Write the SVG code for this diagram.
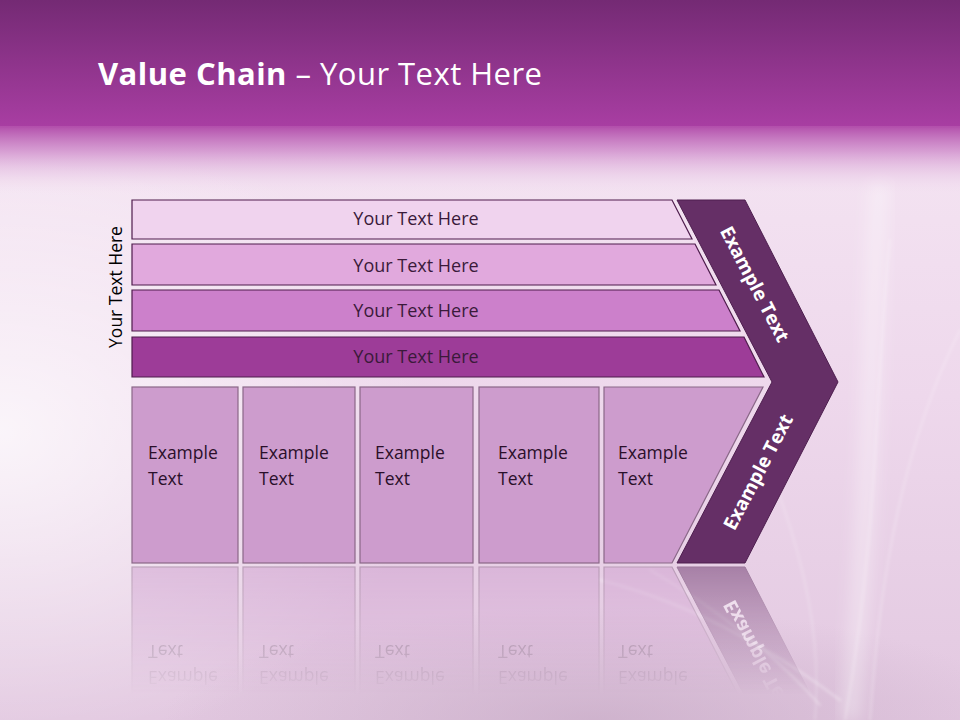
<svg xmlns="http://www.w3.org/2000/svg" xmlns:xlink="http://www.w3.org/1999/xlink" width="960" height="720" viewBox="0 0 960 720">
<defs>
<linearGradient id="bgBase" x1="0" y1="0" x2="0" y2="1">
<stop offset="0" stop-color="#f7eaf5"/>
<stop offset="0.55" stop-color="#eed8ec"/>
<stop offset="1" stop-color="#e2c8e0"/>
</linearGradient>
<radialGradient id="leftGlow" cx="0" cy="0.6" r="0.45">
<stop offset="0" stop-color="#ffffff" stop-opacity="0.75"/>
<stop offset="1" stop-color="#ffffff" stop-opacity="0"/>
</radialGradient>
<radialGradient id="bottomShade" cx="0.62" cy="1" r="0.45" gradientTransform="translate(0.62,1) scale(1,0.35) translate(-0.62,-1)">
<stop offset="0" stop-color="#bfa2be" stop-opacity="0.55"/>
<stop offset="1" stop-color="#bfa2be" stop-opacity="0"/>
</radialGradient>
<linearGradient id="topBand" x1="0" y1="0" x2="0" y2="1">
<stop offset="0" stop-color="#742a74"/>
<stop offset="1" stop-color="#a93ea3"/>
</linearGradient>
<linearGradient id="topFade" x1="0" y1="0" x2="0" y2="1">
<stop offset="0" stop-color="#b24fab" stop-opacity="1"/>
<stop offset="0.35" stop-color="#cf8ccb" stop-opacity="0.8"/>
<stop offset="1" stop-color="#f7eaf5" stop-opacity="0"/>
</linearGradient>
<linearGradient id="fadeGrad" x1="0" y1="0" x2="0" y2="1">
<stop offset="0" stop-color="#ffffff" stop-opacity="0.5"/>
<stop offset="1" stop-color="#ffffff" stop-opacity="0"/>
</linearGradient>
<linearGradient id="sheen" x1="0" y1="0" x2="1" y2="0">
<stop offset="0" stop-color="#ffffff" stop-opacity="0"/>
<stop offset="0.5" stop-color="#ffffff" stop-opacity="0.35"/>
<stop offset="1" stop-color="#ffffff" stop-opacity="0"/>
</linearGradient>
<mask id="fade" maskUnits="userSpaceOnUse" x="0" y="565" width="960" height="155">
<rect x="0" y="565" width="960" height="130" fill="url(#fadeGrad)"/>
</mask>
<filter id="soft" x="-20%" y="-20%" width="140%" height="140%">
<feGaussianBlur stdDeviation="1.5"/>
</filter>
<filter id="wide" x="-50%" y="-20%" width="200%" height="140%">
<feGaussianBlur stdDeviation="8"/>
</filter>
</defs>
<style>
.bar{stroke:#4e1c4c;stroke-width:1.2}
.box{fill:#cd9ccd;stroke:#8a6888;stroke-width:1.2}
.bt{font-family:"Open Sans","Noto Sans",sans-serif;font-size:18px;fill:#3a1a3a;text-anchor:middle}
.et{font-family:"Open Sans","Noto Sans",sans-serif;font-size:17.5px;fill:#2a0f2a}
.ct{font-family:"Open Sans","Noto Sans",sans-serif;font-size:19px;font-weight:bold;fill:#ffffff;text-anchor:middle}
.swoosh{fill:none;stroke:#ffffff;stroke-linecap:round}
</style>

<g id="background">
<rect x="0" y="0" width="960" height="720" fill="url(#bgBase)"/>
<rect x="0" y="0" width="960" height="720" fill="url(#leftGlow)"/>
<rect x="0" y="0" width="960" height="720" fill="url(#bottomShade)"/>
<path d="M880,180 C870,300 875,450 850,720" fill="none" stroke="#ffffff" stroke-opacity="0.35" stroke-width="18" filter="url(#wide)"/>
<g filter="url(#soft)">
<path class="swoosh" d="M890,240 C875,380 880,520 845,720" stroke-width="2" stroke-opacity="0.25"/>
<path class="swoosh" d="M960,330 C905,440 880,570 870,720" stroke-width="1.5" stroke-opacity="0.3"/>
<path class="swoosh" d="M770,470 C805,560 822,640 815,720" stroke-width="1.5" stroke-opacity="0.25"/>
<path class="swoosh" d="M600,580 C680,600 760,640 840,700" stroke-width="2.5" stroke-opacity="0.3"/>
<path class="swoosh" d="M650,570 C720,610 780,660 820,705" stroke-width="1.5" stroke-opacity="0.4"/>
</g>
<rect x="0" y="0" width="960" height="128" fill="url(#topBand)"/>
<rect x="0" y="126" width="960" height="72" fill="url(#topFade)"/>
</g>

<g id="title">
<text x="98" y="85" font-family="'Open Sans','Noto Sans',sans-serif" font-size="31" fill="#ffffff" textLength="444" lengthAdjust="spacing"><tspan font-weight="bold">Value Chain</tspan> – Your Text Here</text>
</g>

<g id="diagram">
<g id="side-label">
<text transform="translate(122,287) rotate(-90)" font-family="'Open Sans','Noto Sans',sans-serif" font-size="17.5" fill="#000000" text-anchor="middle">Your Text Here</text>
</g>
<g id="bar1">
<polygon class="bar" points="132,200 672,200 692,239 132,239" fill="#f0d3ee"/>
<text class="bt" x="416" y="225">Your Text Here</text>
</g>
<g id="bar2">
<polygon class="bar" points="132,244 695,244 716,285 132,285" fill="#e1a9dd"/>
<text class="bt" x="416" y="272">Your Text Here</text>
</g>
<g id="bar3">
<polygon class="bar" points="132,290 719,290 740,331 132,331" fill="#cc80cb"/>
<text class="bt" x="416" y="317">Your Text Here</text>
</g>
<g id="bar4">
<polygon class="bar" points="132,337 744,337 764,377 132,377" fill="#9d3c98"/>
<text class="bt" x="416" y="363">Your Text Here</text>
</g>
<g id="box1">
<rect class="box" x="132" y="387" width="106" height="176"/>
<text class="et" x="148" y="459">Example</text>
<text class="et" x="148" y="485">Text</text>
</g>
<g id="box2">
<rect class="box" x="243" y="387" width="112" height="176"/>
<text class="et" x="259" y="459">Example</text>
<text class="et" x="259" y="485">Text</text>
</g>
<g id="box3">
<rect class="box" x="360" y="387" width="113" height="176"/>
<text class="et" x="375" y="459">Example</text>
<text class="et" x="375" y="485">Text</text>
</g>
<g id="box4">
<rect class="box" x="479" y="387" width="120" height="176"/>
<text class="et" x="498" y="459">Example</text>
<text class="et" x="498" y="485">Text</text>
</g>
<g id="box5">
<polygon class="box" points="604,387 763,387 672,563 604,563"/>
<text class="et" x="618" y="459">Example</text>
<text class="et" x="618" y="485">Text</text>
</g>
<g id="chevron">
<path d="M677,200 L745,200 L838,382 L745,563 L677,563 L772,382 Z" fill="#652f66" stroke="#4e1f4f" stroke-width="1"/>
<text class="ct" transform="translate(755,284) rotate(62.4)" dy="0.36em">Example Text</text>
<text class="ct" transform="translate(758,472) rotate(-62.4)" dy="0.36em">Example Text</text>
</g>
</g>

<g id="connectors"></g>

<g id="reflection" mask="url(#fade)">
<use xlink:href="#diagram" transform="matrix(1,0,0,-1,0,1130)"/>
</g>
</svg>
